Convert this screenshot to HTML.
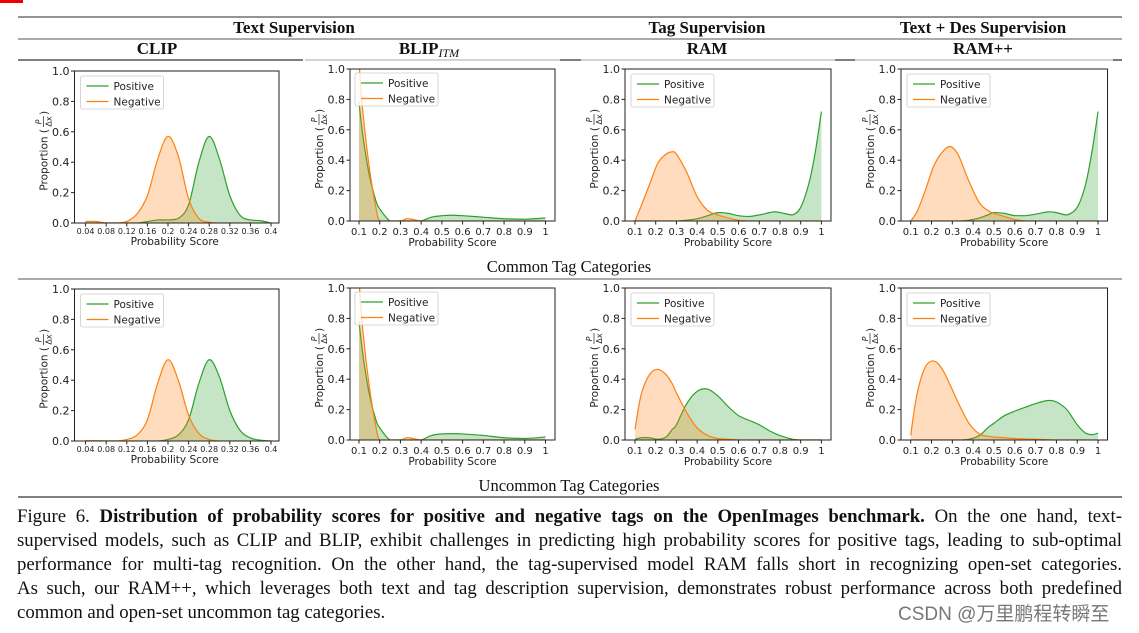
<!DOCTYPE html>
<html><head><meta charset="utf-8"><style>
body{margin:0;width:1139px;height:633px;background:#fff;overflow:hidden;position:relative;font-family:"Liberation Serif",serif}
.cap{position:absolute;left:17px;width:1105px;font-size:18.8px;line-height:24px;color:#111;text-align:justify;text-align-last:justify;white-space:nowrap}
</style></head><body>
<div style="position:absolute;left:0;top:0;width:23px;height:3px;background:#e00"></div>
<svg id="fig" width="1139" height="500" style="position:absolute;left:0;top:0" xmlns="http://www.w3.org/2000/svg">
<g stroke-width="1.3">
<line x1="18" y1="17" x2="1122" y2="17" stroke="#555"/>
<line x1="18" y1="39" x2="1122" y2="39" stroke="#777"/>
<line x1="18" y1="60" x2="303" y2="60" stroke="#333"/>
<line x1="305" y1="60" x2="560" y2="60" stroke="#bbb"/>
<line x1="560" y1="60" x2="581" y2="60" stroke="#333"/>
<line x1="581" y1="60" x2="835" y2="60" stroke="#bbb"/>
<line x1="835" y1="60" x2="855" y2="60" stroke="#333"/>
<line x1="855" y1="60" x2="1113" y2="60" stroke="#bbb"/>
<line x1="1113" y1="60" x2="1122" y2="60" stroke="#333"/>
<line x1="18" y1="279" x2="1122" y2="279" stroke="#777"/>
<line x1="18" y1="497" x2="1122" y2="497" stroke="#333"/>
</g>
<g font-family="Liberation Serif, serif" font-weight="bold" font-size="17" text-anchor="middle" fill="#111">
<text x="294" y="33">Text Supervision</text>
<text x="707" y="33">Tag Supervision</text>
<text x="983" y="33">Text + Des Supervision</text>
<text x="157" y="54">CLIP</text>
<text x="429" y="54">BLIP<tspan font-style="italic" font-weight="normal" font-size="12" dy="3">ITM</tspan></text>
<text x="707" y="54">RAM</text>
<text x="983" y="54">RAM++</text>
</g>
<g font-family="Liberation Serif, serif" font-size="16.5" text-anchor="middle" fill="#111">
<text x="569" y="272">Common Tag Categories</text>
<text x="569" y="491">Uncommon Tag Categories</text>
</g>
</svg>
<div class="cap" style="top:505px">Figure 6. <b>Distribution of probability scores for positive and negative tags on the OpenImages benchmark.</b> On the one hand, text-</div>
<div class="cap" style="top:529px">supervised models, such as CLIP and BLIP, exhibit challenges in predicting high probability scores for positive tags, leading to sub-optimal</div>
<div class="cap" style="top:553px">performance for multi-tag recognition. On the other hand, the tag-supervised model RAM falls short in recognizing open-set categories.</div>
<div class="cap" style="top:577px">As such, our RAM++, which leverages both text and tag description supervision, demonstrates robust performance across both predefined</div>
<div class="cap" style="top:601px;text-align:left;text-align-last:left;width:auto">common and open-set uncommon tag categories.</div>
<div style="position:absolute;left:898px;top:599px;font-family:'Liberation Sans','Noto Sans CJK SC',sans-serif;font-size:19px;color:#777">CSDN @万里鹏程转瞬至</div>
<script>
const clipTicks=[0.04,0.08,0.12,0.16,0.2,0.24,0.28,0.32,0.36,0.4];
const clipTickLabels=["0.04","0.08","0.12","0.16","0.2","0.24","0.28","0.32","0.36","0.4"];
const probTicks=[0.1,0.2,0.3,0.4,0.5,0.6,0.7,0.8,0.9,1];
const probTickLabels=["0.1","0.2","0.3","0.4","0.5","0.6","0.7","0.8","0.9","1"];
const yTicks=[0,0.2,0.4,0.6,0.8,1.0];
const yTickLabels=["0.0","0.2","0.4","0.6","0.8","1.0"];
const seriesNames=["Positive","Negative"];

const clipTopX=[0.04,0.06,0.08,0.10,0.12,0.14,0.16,0.18,0.20,0.22,0.24,0.26,0.28,0.30,0.32,0.34,0.36,0.38,0.40];
const clipTopPos=[0,0,0,0,0,0,0.01,0.02,0.02,0.03,0.12,0.40,0.57,0.42,0.18,0.05,0.02,0.015,0];
const clipTopNeg=[0.01,0.01,0,0,0.01,0.06,0.18,0.42,0.57,0.44,0.16,0.03,0.005,0,0,0,0,0,0];
const clipBotPos=[0,0,0,0,0,0,0,0,0.01,0.04,0.14,0.38,0.535,0.42,0.2,0.07,0.02,0.005,0];
const clipBotNeg=[0.002,0.002,0,0,0.01,0.04,0.14,0.38,0.535,0.40,0.17,0.05,0.01,0,0,0,0,0,0];

const blipX=[0.1,0.12,0.15,0.18,0.2,0.25,0.3,0.33,0.36,0.4,0.45,0.5,0.55,0.6,0.7,0.8,0.9,1];
const blipTopPos=[0.78,0.55,0.3,0.14,0.08,0,0,0,0,0,0.025,0.035,0.038,0.035,0.025,0.015,0.012,0.02];
const blipTopNeg=[1.05,0.7,0.35,0.1,0,0,0,0.015,0.01,0,0,0,0,0,0,0,0,0];
const blipBotPos=[0.78,0.55,0.3,0.14,0.08,0,0,0,0,0,0.03,0.04,0.042,0.04,0.03,0.015,0.01,0.02];
const blipBotNeg=[1.05,0.7,0.35,0.1,0,0,0,0.015,0.01,0,0,0,0,0,0,0,0,0];

const ramX=[0.1,0.13,0.17,0.21,0.25,0.28,0.3,0.35,0.4,0.45,0.5,0.55,0.6,0.65,0.7,0.75,0.78,0.82,0.86,0.9,0.94,0.97,1];
const ramTopPos=[0,0,0,0,0,0,0,0.005,0.015,0.035,0.055,0.05,0.035,0.03,0.04,0.055,0.06,0.05,0.04,0.09,0.25,0.45,0.72];
const ramTopNeg=[0,0.1,0.24,0.38,0.44,0.455,0.44,0.32,0.16,0.07,0.04,0.02,0.005,0,0,0,0,0,0,0,0,0,0];
const ramBotPos=[0.005,0.015,0.015,0.005,0.02,0.07,0.1,0.24,0.32,0.335,0.29,0.22,0.16,0.13,0.1,0.06,0.04,0.02,0.005,0,0,0,0];
const ramBotNeg=[0.07,0.3,0.43,0.465,0.43,0.37,0.31,0.18,0.08,0.03,0.01,0.005,0,0,0,0,0,0,0,0,0,0,0];

const rampX=[0.1,0.13,0.17,0.21,0.25,0.29,0.33,0.38,0.43,0.47,0.5,0.55,0.6,0.65,0.7,0.76,0.8,0.85,0.9,0.94,0.97,0.985,1];
const rampTopPos=[0,0,0,0,0,0,0,0.005,0.02,0.04,0.055,0.05,0.035,0.035,0.045,0.06,0.055,0.04,0.09,0.24,0.45,0.58,0.72];
const rampTopNeg=[0,0.06,0.2,0.36,0.45,0.49,0.43,0.26,0.12,0.07,0.05,0.03,0.01,0,0,0,0,0,0,0,0,0,0];
const rampBotPos=[0,0,0,0,0,0,0,0.005,0.03,0.08,0.11,0.16,0.19,0.215,0.24,0.26,0.25,0.2,0.1,0.045,0.035,0.038,0.045];
const rampBotNeg=[0.03,0.3,0.48,0.52,0.47,0.36,0.24,0.11,0.04,0.025,0.02,0.015,0.01,0.007,0.005,0.002,0,0,0,0,0,0,0];

const panels=[
 {n:"clip-top",L:74.5,R:279,T:71,B:223,d:[0.0185,0.4155],tk:clipTicks,tl:clipTickLabels,fs:8,x:clipTopX,p:clipTopPos,q:clipTopNeg},
 {n:"blip-top",L:350,R:555,T:69,B:221,d:[0.0566,1.0458],tk:probTicks,tl:probTickLabels,fs:10,x:blipX,p:blipTopPos,q:blipTopNeg},
 {n:"ram-top",L:625,R:831,T:69,B:221,d:[0.0518,1.0463],tk:probTicks,tl:probTickLabels,fs:10,x:ramX,p:ramTopPos,q:ramTopNeg},
 {n:"ramplus-top",L:901,R:1107.5,T:69,B:221,d:[0.0534,1.0454],tk:probTicks,tl:probTickLabels,fs:10,x:rampX,p:rampTopPos,q:rampTopNeg},
 {n:"clip-bottom",L:74.5,R:279,T:289,B:441,d:[0.0185,0.4155],tk:clipTicks,tl:clipTickLabels,fs:8,x:clipTopX,p:clipBotPos,q:clipBotNeg},
 {n:"blip-bottom",L:350,R:555,T:288,B:440,d:[0.0566,1.0458],tk:probTicks,tl:probTickLabels,fs:10,x:blipX,p:blipBotPos,q:blipBotNeg},
 {n:"ram-bottom",L:625,R:831,T:288,B:440,d:[0.0518,1.0463],tk:probTicks,tl:probTickLabels,fs:10,x:ramX,p:ramBotPos,q:ramBotNeg},
 {n:"ramplus-bottom",L:901,R:1107.5,T:288,B:440,d:[0.0534,1.0454],tk:probTicks,tl:probTickLabels,fs:10,x:rampX,p:rampBotPos,q:rampBotNeg}
];
const NS="http://www.w3.org/2000/svg";
const svg=document.getElementById("fig");
function mk(tag,attrs,parent){const e=document.createElementNS(NS,tag);for(const k in attrs)e.setAttribute(k,attrs[k]);(parent||svg).appendChild(e);return e;}
function spline(pts){let d="M"+pts[0][0].toFixed(2)+","+pts[0][1].toFixed(2);
 for(let i=0;i<pts.length-1;i++){const p0=pts[Math.max(0,i-1)],p1=pts[i],p2=pts[i+1],p3=pts[Math.min(pts.length-1,i+2)];
  let c1y=p1[1]+(p2[1]-p0[1])/6,c2y=p2[1]-(p3[1]-p1[1])/6;
  const lo=Math.max(p1[1],p2[1]);c1y=Math.min(c1y,Math.max(lo,p1[1]));c2y=Math.min(c2y,Math.max(lo,p2[1]));
  d+=" C"+(p1[0]+(p2[0]-p0[0])/6).toFixed(2)+","+c1y.toFixed(2)+" "+(p2[0]-(p3[0]-p1[0])/6).toFixed(2)+","+c2y.toFixed(2)+" "+p2[0].toFixed(2)+","+p2[1].toFixed(2);}
 return d;}
panels.forEach((P,idx)=>{
 const sx=v=>P.L+(v-P.d[0])/(P.d[1]-P.d[0])*(P.R-P.L);
 const sy=v=>P.B-v*(P.B-P.T);
 const g=mk("g",{});
 
 
 const cid="clip"+idx;
 const cp=mk("clipPath",{id:cid},g);mk("rect",{x:P.L,y:P.T,width:P.R-P.L,height:P.B-P.T},cp);
 const series=[[P.p,"#2ca02c","positive"],[P.q,"#ff7f0e","negative"]];
 series.forEach(([ys,col,nm])=>{
  const pts=P.x.map((xv,i)=>[sx(xv),sy(ys[i])]);
  const line=spline(pts);
  const area=mk("path",{d:line+" L"+pts[pts.length-1][0]+","+P.B+" L"+pts[0][0]+","+P.B+" Z",fill:col,"fill-opacity":0.27,stroke:"none","clip-path":"url(#"+cid+")"},g);
  
  
  const l=mk("path",{d:line,fill:"none",stroke:col,"stroke-width":1.2,"clip-path":"url(#"+cid+")"},g);
  
  
 });
 const fr=mk("rect",{x:P.L,y:P.T,width:P.R-P.L,height:P.B-P.T,fill:"none",stroke:"#222","stroke-width":1},g);
 
 
 P.tk.forEach((t,i)=>{const x=sx(t);mk("line",{x1:x,y1:P.B,x2:x,y2:P.B+3.5,stroke:"#222"},g);
  const tx=mk("text",{x:x,y:P.B+(P.fs==8?11:14),"font-size":P.fs,"font-family":"DejaVu Sans, sans-serif","text-anchor":"middle",fill:"#222"},g);tx.textContent=P.tl[i];
  
  });
 yTicks.forEach((t,i)=>{const y=sy(t);mk("line",{x1:P.L-3.5,y1:y,x2:P.L,y2:y,stroke:"#222"},g);
  const tx=mk("text",{x:P.L-5,y:y+4,"font-size":11,"font-family":"DejaVu Sans, sans-serif","text-anchor":"end",fill:"#222"},g);tx.textContent=yTickLabels[i];
  
  });
 const xt=mk("text",{x:(P.L+P.R)/2+(P.fs==8?-2:0),y:P.B+(P.fs==8?22:25),"font-size":10.5,"font-family":"DejaVu Sans, sans-serif","text-anchor":"middle",fill:"#222"},g);xt.textContent="Probability Score";
 
 
 const yx=P.L-31,yy=(P.T+P.B)/2+6;
 const yg=mk("g",{transform:"translate("+yx+","+yy+") rotate(-90)","font-family":"DejaVu Sans, sans-serif",fill:"#222"},g);
 
 
 const y1=mk("text",{x:24,y:4,"font-size":10.5,"text-anchor":"end"},yg);y1.textContent="Proportion (";
 const y2=mk("text",{x:31,y:-2,"font-size":8,"font-style":"italic","text-anchor":"middle"},yg);y2.textContent="P";
 mk("line",{x1:26,y1:0,x2:37,y2:0,stroke:"#222","stroke-width":0.7},yg);
 const y3=mk("text",{x:31.5,y:8,"font-size":8,"text-anchor":"middle"},yg);y3.textContent="Δx";
 const y4=mk("text",{x:38,y:4,"font-size":10.5},yg);y4.textContent=")";
 const lx=P.L+(idx%4==1?5:6),ly=P.T+(idx%4==1?4:5);
 const lg=mk("g",{},g);
 
 
 mk("rect",{x:lx,y:ly,width:83,height:33,rx:2,fill:"#fff","fill-opacity":0.8,stroke:"#ccc","stroke-width":0.8},lg);
 [["#2ca02c",seriesNames[0]],["#ff7f0e",seriesNames[1]]].forEach(([c,t],i)=>{
  const yy2=ly+10+i*15.5;
  mk("line",{x1:lx+6,y1:yy2,x2:lx+28,y2:yy2,stroke:c,"stroke-width":1.3},lg);
  const tt=mk("text",{x:lx+33,y:yy2+4,"font-size":10.5,"font-family":"DejaVu Sans, sans-serif",fill:"#222"},lg);tt.textContent=t;
  
  
 });
});
</script>
</body></html>
